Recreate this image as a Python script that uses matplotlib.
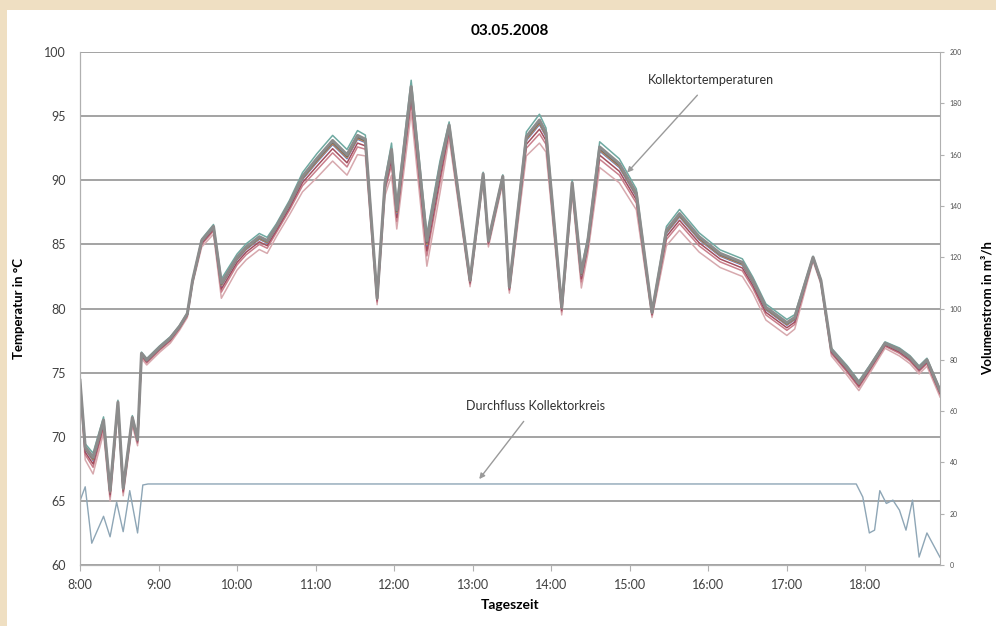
import matplotlib.pyplot as plt
import numpy as np
from matplotlib.patches import Rectangle

plt.rcParams['font.family'] = ['Lato', 'DejaVu Sans']

# Kollektortemperaturen: minutes after 8:00, reference sensor in degC, band width
t_temp = [0, 4, 10, 18, 23, 29, 33, 40, 44, 47, 51, 61, 69, 76, 82, 86, 93, 102,
          108, 120, 127, 137, 143, 150, 160, 170, 181, 193, 204, 212, 218, 227, 233,
          238, 242, 253, 265, 275, 282, 298, 308, 312, 323, 328, 341, 351, 356, 368,
          376, 383, 388, 397, 412, 425, 437, 448, 458, 473, 489, 506, 514, 524, 540,
          546, 560, 566, 574, 586, 595, 603, 615, 626, 634, 641, 647, 657]
temp_main = [74.4, 69.2, 68.4, 71.3, 65.8, 72.7, 66.0, 71.5, 69.8, 76.5, 76.0, 77.0,
             77.7, 78.6, 79.6, 82.2, 85.3, 86.4, 82.0, 84.0, 84.8, 85.6, 85.3, 86.4,
             88.2, 90.3, 91.7, 93.1, 92.0, 93.5, 93.2, 80.8, 89.8, 92.4, 87.7, 97.3,
             85.3, 91.0, 94.3, 82.2, 90.5, 85.3, 90.3, 81.7, 93.4, 94.7, 93.7, 80.1,
             89.8, 82.8, 85.3, 92.6, 91.3, 89.0, 79.7, 86.1, 87.4, 85.6, 84.3, 83.6,
             82.2, 80.1, 78.9, 79.3, 84.0, 82.2, 76.8, 75.4, 74.2, 75.4, 77.3, 76.8,
             76.2, 75.4, 76.0, 73.6]
temp_spread = [0.6, 1.0, 1.3, 1.0, 0.8, 0.6, 0.6, 0.6, 0.5, 0.4, 0.4, 0.4, 0.4, 0.3,
               0.3, 0.3, 0.5, 0.6, 1.2, 1.0, 1.0, 1.0, 1.0, 0.8, 0.9, 1.2, 1.5, 1.6,
               1.6, 1.5, 1.3, 0.5, 1.0, 2.0, 1.5, 2.0, 2.0, 2.0, 1.0, 0.5, 0.5, 0.5,
               0.5, 0.5, 1.5, 1.8, 1.5, 0.6, 0.8, 1.2, 1.0, 1.6, 1.5, 1.3, 0.4, 1.2,
               1.3, 1.2, 1.1, 1.1, 1.0, 1.0, 1.0, 0.9, 0.3, 0.3, 0.5, 0.6, 0.6, 0.5,
               0.4, 0.5, 0.5, 0.5, 0.5, 0.5]
sensor_colors = ['#d7a9ae', '#c97f8c', '#a34e5e', '#5b7bc4', '#d98b45', '#6a6a6a', '#6fa9a1']
sensor_pos = [-1.0, -0.6, -0.4, -0.2, -0.15, -0.1, 0.25]

# Durchfluss Kollektorkreis in m3/h
t_flow = [0, 4, 9, 18, 23, 28, 33, 38, 44, 48, 52, 593, 598, 603, 607, 611, 616,
          621, 626, 631, 636, 641, 647, 657]
flow = [25, 30.5, 8.5, 19, 11, 24.5, 13, 29, 12.5, 31.2, 31.6, 31.6, 26.5, 12.5,
        13.6, 29, 24, 25.3, 21.4, 13.6, 25.3, 3.1, 12.5, 3]

hour_labels = ['8:00', '9:00', '10:00', '11:00', '12:00', '13:00', '14:00',
               '15:00', '16:00', '17:00', '18:00']

fig = plt.figure(figsize=(9.96, 6.26), dpi=100, facecolor='#efdfc2')
fig.add_artist(Rectangle((0.007, 0), 0.993, 0.984, transform=fig.transFigure,
                         facecolor='white', edgecolor='none', zorder=-10))

ax = fig.add_axes([0.0803, 0.0974, 0.8635, 0.8195])
ax.set_facecolor('white')
ax2 = ax.twinx()

main = np.array(temp_main)
spread = np.array(temp_spread)
for c, p in zip(sensor_colors, sensor_pos):
    ax.plot(t_temp, main + p * spread, color=c, lw=1.1, zorder=3)
ax.plot(t_temp, main, color='#8c8c8c', lw=2.2, zorder=4)

ax2.plot(t_flow, flow, color='#8ea6b6', lw=1.0)

ax.set_xlim(0, 657)
ax.set_ylim(60, 100)
ax2.set_ylim(0, 200)
ax.set_yticks(np.arange(60, 101, 5))
ax2.set_yticks(np.arange(0, 201, 20))
ax.set_xticks(np.arange(0, 601, 60))
ax.set_xticklabels(hour_labels)

ax.grid(axis='y', color='#8a8a8a', lw=1.1)
ax.set_axisbelow(True)
for a in (ax, ax2):
    for s in a.spines.values():
        s.set_color('#b0b0b0')
    a.spines['top'].set_visible(False)
ax.spines['right'].set_visible(False)

ax.tick_params(axis='y', length=0, labelsize=9, colors='#404040', pad=10)
ax.tick_params(axis='x', length=4, color='#b0b0b0', labelsize=9, labelcolor='#404040', pad=6)
ax2.tick_params(axis='y', length=3, color='#b0b0b0', labelsize=5, labelcolor='#505050', pad=4)

ax.set_title('03.05.2008', fontsize=11, fontweight='bold', pad=12)
ax.set_ylabel('Temperatur in °C', fontsize=9.5, fontweight='bold', labelpad=14)
ax2.set_ylabel('Volumenstrom in m³/h', fontsize=9.5, fontweight='bold', labelpad=14)
ax.set_xlabel('Tageszeit', fontsize=10, fontweight='bold', labelpad=6)

ax.annotate('Kollektortemperaturen', xy=(418, 90.6), xytext=(482, 97.8),
            ha='center', va='center', fontsize=9, color='#303030',
            arrowprops=dict(arrowstyle='-|>', color='#9a9a9a', lw=1, shrinkA=6, shrinkB=0,
                            mutation_scale=8))
ax.annotate('Durchfluss Kollektorkreis', xy=(305, 66.7), xytext=(348, 72.4),
            ha='center', va='center', fontsize=9, color='#303030',
            arrowprops=dict(arrowstyle='-|>', color='#9a9a9a', lw=1, shrinkA=6, shrinkB=0,
                            mutation_scale=8))

plt.savefig('out.png', dpi=100, facecolor=fig.get_facecolor())
